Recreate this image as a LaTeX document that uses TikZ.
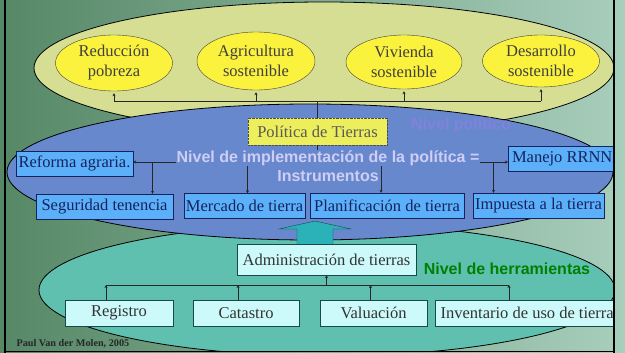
\documentclass[tikz,border=0pt]{standalone}
\usepackage{fontspec}
\setmainfont{Liberation Serif}
\setsansfont{Liberation Sans}
\usetikzlibrary{shapes.geometric,arrows.meta,calc,positioning}

\definecolor{bgdark}{RGB}{86,136,102}
\definecolor{bglight}{RGB}{168,206,188}
\definecolor{goalback}{RGB}{214,222,148}
\definecolor{goalyellow}{RGB}{250,242,60}
\definecolor{polyellow}{RGB}{236,238,92}
\definecolor{instback}{RGB}{104,136,206}
\definecolor{instblue}{RGB}{92,176,250}
\definecolor{toolback}{RGB}{96,192,176}
\definecolor{toolcyan}{RGB}{204,250,250}
\definecolor{instline}{RGB}{22,34,92}
\definecolor{toolline}{RGB}{24,72,72}
\definecolor{arrowteal}{RGB}{42,178,184}
\definecolor{textlav}{RGB}{206,206,244}
\definecolor{textpurple}{RGB}{128,130,220}
\definecolor{textgreen}{RGB}{0,128,0}

\begin{document}
\begin{tikzpicture}[x=1pt,y=-1pt,
    goal/.style={ellipse, draw=black!75, fill=goalyellow, inner sep=0pt,
      align=center, text=black!75, font=\fontsize{16.5}{20}\selectfont},
    polbox/.style={draw=black!70, densely dotted, fill=polyellow, inner sep=0pt,
      minimum width=139pt, minimum height=27pt, text=black!65,
      font=\fontsize{16.5}{20}\selectfont},
    instbox/.style={draw=instline, fill=instblue, inner sep=0pt,
      minimum height=25pt, text=instline, font=\fontsize{16.5}{20}\selectfont},
    toolbox/.style={draw=toolline, fill=toolcyan, inner sep=0pt,
      minimum height=26pt, text=black!80, font=\fontsize{16.5}{20}\selectfont},
    levellabel/.style={font=\sffamily\bfseries\fontsize{16}{19}\selectfont, align=center},
    link/.style={draw=black!85, line width=0.6pt},
    linkarrow/.style={link, -{Stealth[length=3pt,width=3pt]}}]

  % background and page size
  \shade[left color=bgdark, right color=bglight] (0,0) rectangle (625,353);
  \useasboundingbox (0,0) rectangle (625,353);

  \begin{scope}
    \clip (6,0) rectangle (613,351);

    % the three levels
    \filldraw[fill=goalback, draw=black, line width=0.8pt] (324,68) ellipse [x radius=290pt, y radius=66pt];
    \filldraw[fill=toolback, draw=black, line width=0.8pt] (327,290) ellipse [x radius=288pt, y radius=66pt];
    \filldraw[fill=instback, draw=black, line width=0.8pt] (310,172) ellipse [x radius=303pt, y radius=68pt];
    \node[levellabel, text=textpurple] (polname) at (461,125) {Nivel político};

    % policy goals
    \node[goal, minimum width=117pt, minimum height=56pt] (pobreza) at (114,63) {Reducción\\pobreza};
    \node[goal, minimum width=118pt, minimum height=58pt] (agri) at (256,61) {Agricultura\\sostenible};
    \node[goal, minimum width=116pt, minimum height=54pt] (vivienda) at (404,62) {Vivienda\\sostenible};
    \node[goal, minimum width=117pt, minimum height=52pt] (desarrollo) at (541,61) {Desarrollo\\sostenible};

    \node[polbox] (pol) at (317.5,131.5) {Política de Tierras};

    % instruments
    \node[instbox, minimum width=117pt] (reforma) at (74.5,163.5) {Reforma agraria.};
    \node[instbox, minimum width=108pt, anchor=west] (manejo) at (508,158.5) {Manejo RRNN};
    \node[instbox, minimum width=137pt] (seguridad) at (104.5,206.5) {Seguridad tenencia};
    \node[instbox, minimum width=121pt] (mercado) at (244.5,206) {Mercado de tierra};
    \node[instbox, minimum width=154pt] (planif) at (387,205.5) {Planificación de tierra};
    \node[instbox, minimum width=131pt] (impuesta) at (538.5,205.5) {Impuesta a la tierra};

    % tools
    \filldraw[fill=arrowteal, draw=toolline, line width=0.4pt]
      (297,252) -- (297,229) -- (279,229) -- (315,221) -- (351,229) -- (333,229) -- (333,252) -- cycle;
    \node[toolbox, minimum width=179pt, minimum height=31pt] (admin) at (326.5,259.5) {Administración de tierras};
    \node[levellabel, text=textgreen] (toolname) at (507,269) {Nivel de herramientas};
    \node[toolbox, minimum width=108pt] (registro) at (119,313) {Registro};
    \node[toolbox, minimum width=106pt] (catastro) at (246,313) {Catastro};
    \node[toolbox, minimum width=107pt] (valuacion) at (373.5,313) {Valuación};
    \node[toolbox, minimum width=184pt, anchor=west] (inventario) at (435,313) {Inventario de uso de tierra};

    % connectors, policy level
    \coordinate (goalbus) at (pol.north |- 0,101);
    \draw[link] (pol.north) -- (goalbus);
    \draw[link] (pobreza.south |- goalbus) -- (desarrollo.south |- goalbus);
    \foreach \g in {pobreza,agri,vivienda,desarrollo}
      \draw[linkarrow] (\g.south |- goalbus) -- ([yshift=-2pt]\g.south);

    % connectors, instruments
    \coordinate (implbus) at (pol.south |- 0,162);
    \draw[link] (pol.south) -- (implbus);
    \draw[linkarrow] (implbus) -- (reforma.east |- implbus);
    \draw[linkarrow] (implbus) -- (manejo.west |- implbus);
    \foreach \b/\dx in {seguridad/48,mercado/3,planif/-6,impuesta/-45}
      \draw[linkarrow] ([xshift=\dx pt]\b.north |- implbus) -- ([xshift=\dx pt]\b.north);
    \node[levellabel, text=textlav, fill=instback, inner sep=0.5pt] (implname) at (328,158) {Nivel de implementación de la política =};
    \node[levellabel, text=textlav, inner sep=0.5pt, below=3.5pt of implname] (implname2) {Instrumentos};

    % connectors, tools
    \coordinate (toolbus) at (admin.south |- 0,285);
    \draw[link] ([xshift=-13pt]registro.north |- toolbus) -- (509,285) coordinate (toolend);
    \draw[linkarrow] (toolbus) -- (admin.south);
    \foreach \b/\dx in {registro/-13,catastro/-8,valuacion/-3}
      \draw[linkarrow] ([xshift=\dx pt]\b.north) -- ([xshift=\dx pt]\b.north |- toolbus);
    \draw[linkarrow] (toolend |- inventario.north) -- (toolend);
  \end{scope}

  % frame and credit
  \draw[line width=2pt] (5,0) -- (5,353);
  \draw[line width=2pt] (614,0) -- (614,353);
  \draw[line width=1.5pt] (5,351.5) -- (614,351.5);
  \node[anchor=west, font=\bfseries\fontsize{10.2}{12}\selectfont, text=black!85] (credit) at (13,344) {Paul Van der Molen, 2005};
\end{tikzpicture}
\end{document}
